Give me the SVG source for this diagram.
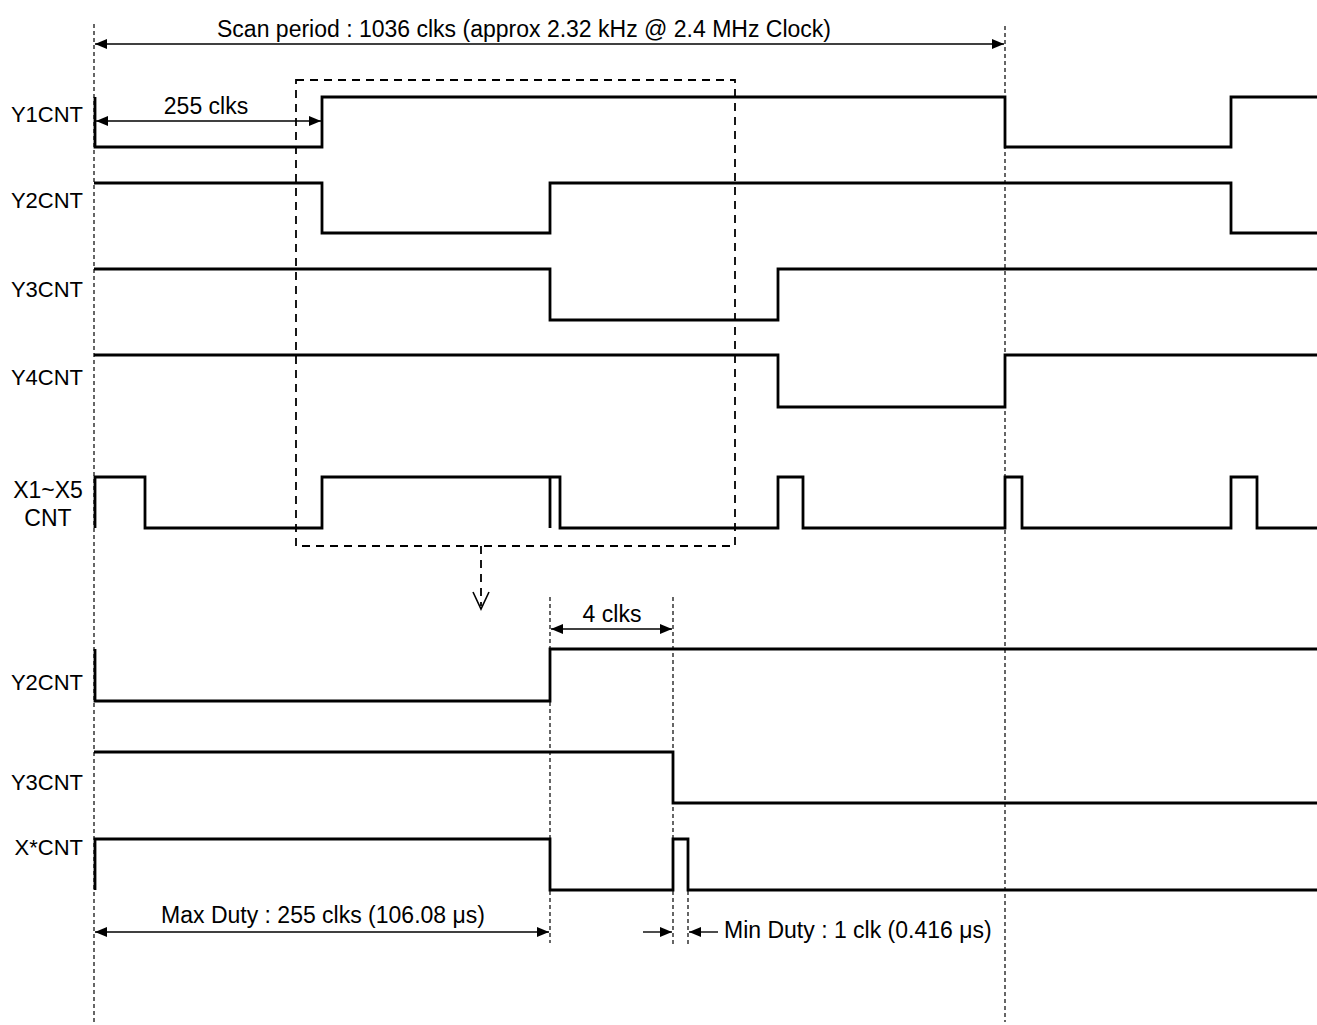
<svg xmlns="http://www.w3.org/2000/svg" width="1317" height="1025" viewBox="0 0 1317 1025">
<style>
text{font-family:"Liberation Sans",Arial,sans-serif;font-size:23px;fill:#000}
.lbl{text-anchor:end;font-size:22px}
.mid{text-anchor:middle}
.sig{fill:none;stroke:#000;stroke-width:2.8;stroke-linejoin:miter}
.guide{fill:none;stroke:#000;stroke-width:1.2;stroke-dasharray:4,3}
.box{fill:none;stroke:#000;stroke-width:1.8;stroke-dasharray:8,6}
.dim{fill:none;stroke:#000;stroke-width:1.4}
</style>
<defs>
<marker id="ah" markerUnits="userSpaceOnUse" markerWidth="14" markerHeight="12" refX="12" refY="6" orient="auto-start-reverse">
<path d="M0,1 L12,6 L0,11 Z" fill="#000"/>
</marker>
</defs>
<g id="guides">
<line class="guide" x1="94" y1="24" x2="94" y2="1022"/>
<line class="guide" x1="1005" y1="26" x2="1005" y2="1022"/>
<line class="guide" x1="550" y1="597" x2="550" y2="943"/>
<line class="guide" x1="673" y1="597" x2="673" y2="945"/>
<line class="guide" x1="688" y1="891" x2="688" y2="945"/>
</g>
<g id="zoom-box">
<rect class="box" x="296" y="80" width="439" height="466"/>
<line class="box" x1="481" y1="546" x2="481" y2="606"/>
<path d="M473,592 L481,609 L489,592" fill="none" stroke="#000" stroke-width="1.6"/>
</g>
<g id="labels">
<text class="lbl" x="83" y="122">Y1CNT</text>
<text class="lbl" x="83" y="208">Y2CNT</text>
<text class="lbl" x="83" y="297">Y3CNT</text>
<text class="lbl" x="83" y="385">Y4CNT</text>
<text class="mid" x="48" y="498">X1~X5</text>
<text class="mid" x="48" y="526">CNT</text>
<text class="lbl" x="83" y="690">Y2CNT</text>
<text class="lbl" x="83" y="790">Y3CNT</text>
<text class="lbl" x="83" y="855">X*CNT</text>
</g>
<g id="signals">
<path id="y1cnt" class="sig" d="M95,97 L95,147 L322,147 L322,97 L1005,97 L1005,147 L1231,147 L1231,97 L1317,97"/>
<path id="y2cnt" class="sig" d="M94,183 L322,183 L322,233 L550,233 L550,183 L1231,183 L1231,233 L1317,233"/>
<path id="y3cnt" class="sig" d="M94,269 L550,269 L550,320 L778,320 L778,269 L1317,269"/>
<path id="y4cnt" class="sig" d="M94,355 L778,355 L778,407 L1005,407 L1005,355 L1317,355"/>
<path id="xcnt" class="sig" d="M95,528 L95,477 L145,477 L145,528 L322,528 L322,477 L560,477 L560,528 L778,528 L778,477 L803,477 L803,528 L1005,528 L1005,477 L1022,477 L1022,528 L1231,528 L1231,477 L1257,477 L1257,528 L1317,528"/>
<line class="sig" x1="550" y1="477" x2="550" y2="528"/>
<path id="y2cnt-b" class="sig" d="M95,649 L95,701 L550,701 L550,649 L1317,649"/>
<path id="y3cnt-b" class="sig" d="M94,752 L673,752 L673,803 L1317,803"/>
<path id="xscnt-b" class="sig" d="M95,890 L95,839 L550,839 L550,890 L673,890 L673,839 L688,839 L688,890 L1317,890"/>
</g>
<g id="connectors">
<line class="dim" x1="95" y1="44" x2="1004" y2="44" marker-start="url(#ah)" marker-end="url(#ah)"/>
<line class="dim" x1="96" y1="121" x2="321" y2="121" marker-start="url(#ah)" marker-end="url(#ah)"/>
<line class="dim" x1="551" y1="629" x2="672" y2="629" marker-start="url(#ah)" marker-end="url(#ah)"/>
<line class="dim" x1="95" y1="932" x2="549" y2="932" marker-start="url(#ah)" marker-end="url(#ah)"/>
<line class="dim" x1="643" y1="932" x2="672" y2="932" marker-end="url(#ah)"/>
<line class="dim" x1="718" y1="932" x2="689" y2="932" marker-end="url(#ah)"/>
</g>
<g id="dim-text">
<text class="mid" x="524" y="37">Scan period : 1036 clks (approx 2.32 kHz @ 2.4 MHz Clock)</text>
<text class="mid" x="206" y="114">255 clks</text>
<text class="mid" x="612" y="622">4 clks</text>
<text class="mid" x="323" y="923">Max Duty : 255 clks (106.08 μs)</text>
<text x="724" y="938">Min Duty : 1 clk (0.416 μs)</text>
</g>
</svg>
